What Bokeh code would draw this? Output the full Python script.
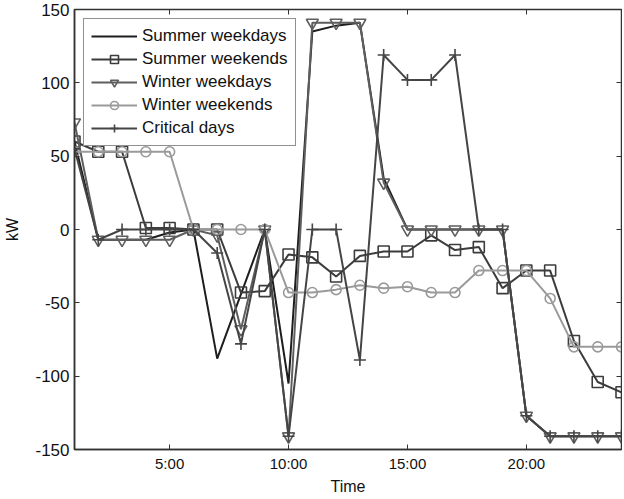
from bokeh.plotting import figure
from bokeh.models import LinearAxis, FixedTicker, Range1d
from bokeh.embed import file_html
from bokeh.resources import INLINE

hours = list(range(1, 25))

summer_weekdays = [60, -7, -7, -7, -2, 0, -88, -44, 0, -105, 135, 139, 141, 35, 0, 0, 0, 0, 0, -127, -141, -141, -141, -141]
summer_weekends = [60, 53, 53, 1, 1, 0, 0, -43, -42, -17, -19, -32, -18, -15, -15, -4, -14, -12, -40, -28, -28, -76, -104, -111]
winter_weekdays = [73, -7, -7, -7, -7, 0, -4, -68, 0, -141, 141, 141, 141, 32, 0, 0, 0, 0, 0, -127, -141, -141, -141, -141]
winter_weekends = [53, 53, 53, 53, 53, 0, 0, 0, 0, -43, -43, -41, -38, -40, -39, -43, -43, -28, -28, -28, -47, -80, -80, -80]
critical_days = [55, -7, 0, 0, 0, 0, -16, -78, 0, -141, 0, 0, -89, 119, 102, 102, 119, 0, 0, -127, -141, -141, -141, -141]

x_ticks = [5, 10, 15, 20]
x_tick_labels = {5: "5:00", 10: "10:00", 15: "15:00", 20: "20:00"}
y_ticks = [-150, -100, -50, 0, 50, 100, 150]
y_tick_labels = {t: str(t) for t in y_ticks}

FONT = "Liberation Sans"

p = figure(width=622, height=497, output_backend="svg", toolbar_location=None,
           x_range=Range1d(1, 24), y_range=Range1d(-150, 150),
           min_border_left=74, min_border_right=1, min_border_top=9, min_border_bottom=36)
p.background_fill_color = "white"
p.border_fill_color = "white"
p.xgrid.visible = False
p.ygrid.visible = False
p.outline_line_color = "#333333"
p.outline_line_width = 1.5

series = [
    ("Summer weekdays", summer_weekdays, "#1e1e1e", None, 10),
    ("Summer weekends", summer_weekends, "#3c3c3c", "square", 11),
    ("Winter weekdays", winter_weekdays, "#5e5e5e", "inverted_triangle", 12),
    ("Winter weekends", winter_weekends, "#9a9a9a", "circle", 10),
    ("Critical days", critical_days, "#454545", "cross", 12),
]

for label, vals, col, marker, sz in series:
    p.line(hours, vals, line_color=col, line_width=2, legend_label=label)
    if marker is not None:
        p.scatter(hours, vals, marker=marker, size=sz, line_color=col, line_width=1.6,
                  fill_alpha=0, legend_label=label)

for ax in (p.xaxis[0], p.yaxis[0]):
    ax.major_tick_in = 5
    ax.major_tick_out = 0
    ax.minor_tick_line_color = None
    ax.axis_line_color = "#333333"
    ax.axis_line_width = 1.5
    ax.major_tick_line_color = "#333333"
    ax.major_label_text_font = FONT
    ax.major_label_text_color = "#111111"
    ax.axis_label_text_font = FONT
    ax.axis_label_text_font_style = "normal"
    ax.axis_label_text_color = "#111111"

p.xaxis[0].ticker = FixedTicker(ticks=x_ticks)
p.xaxis[0].major_label_overrides = x_tick_labels
p.xaxis[0].major_label_text_font_size = "15px"
p.xaxis[0].axis_label = "Time"
p.xaxis[0].axis_label_text_font_size = "16px"
p.xaxis[0].major_label_standoff = 5
p.xaxis[0].axis_label_standoff = 3

p.yaxis[0].ticker = FixedTicker(ticks=y_ticks)
p.yaxis[0].major_label_overrides = y_tick_labels
p.yaxis[0].major_label_text_font_size = "17px"
p.yaxis[0].axis_label = "kW"
p.yaxis[0].axis_label_text_font_size = "16px"
p.yaxis[0].major_label_standoff = 5
p.yaxis[0].axis_label_standoff = 11

top = LinearAxis(ticker=FixedTicker(ticks=x_ticks))
right = LinearAxis(ticker=FixedTicker(ticks=y_ticks))
top.major_label_overrides = {t: "" for t in x_ticks}
right.major_label_overrides = {t: "" for t in y_ticks}
for ax in (top, right):
    ax.major_tick_in = 5
    ax.major_tick_out = 0
    ax.minor_tick_line_color = None
    ax.major_label_text_font_size = "1px"
    ax.major_label_standoff = 0
    ax.axis_line_color = "#333333"
    ax.major_tick_line_color = "#333333"
p.add_layout(top, "above")
p.add_layout(right, "right")

lg = p.legend[0]
lg.location = "top_left"
lg.margin = 9
lg.padding = 7
lg.spacing = 3
lg.glyph_width = 46
lg.glyph_height = 20
lg.label_height = 20
lg.label_standoff = 5
lg.label_text_font = FONT
lg.label_text_font_size = "17px"
lg.label_text_color = "#111111"
lg.border_line_color = "#222222"
lg.border_line_width = 1.2
lg.background_fill_alpha = 1

open("out.html", "w").write(file_html(p, INLINE))
